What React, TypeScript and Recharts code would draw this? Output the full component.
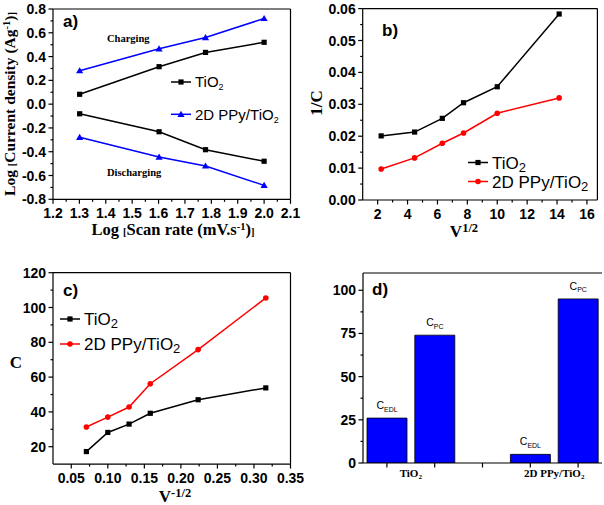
import React from "react";
import {
  LineChart, Line, XAxis, YAxis, ReferenceLine, BarChart, Bar, LabelList,
} from "recharts";

// ---- panel a: log current density vs log scan rate
const scanRateLog = [1.301, 1.602, 1.778, 2.0];
const tio2Charging = [0.083, 0.315, 0.435, 0.52];
const ppyCharging = [0.281, 0.465, 0.56, 0.72];
const tio2Discharging = [-0.081, -0.232, -0.383, -0.48];
const ppyDischarging = [-0.279, -0.445, -0.52, -0.683];
const aXMajor = [1.2, 1.3, 1.4, 1.5, 1.6, 1.7, 1.8, 1.9, 2.0, 2.1];
const aXMinor = [1.25, 1.35, 1.45, 1.55, 1.65, 1.75, 1.85, 1.95, 2.05];
const aYMajor = [-0.8, -0.6, -0.4, -0.2, 0, 0.2, 0.4, 0.6, 0.8];
const aYMinor = [-0.7, -0.5, -0.3, -0.1, 0.1, 0.3, 0.5, 0.7];

// ---- panel b: 1/C vs v^1/2
const sqrtRate = [2.236, 4.472, 6.325, 7.746, 10.0, 14.142];
const tio2InvC = [0.0201, 0.0213, 0.0256, 0.0305, 0.0355, 0.0583];
const ppyInvC = [0.0097, 0.0132, 0.0178, 0.021, 0.0272, 0.032];
const bXMajor = [2, 4, 6, 8, 10, 12, 14, 16];
const bXMinor = [3, 5, 7, 9, 11, 13, 15];
const bYMajor = [0, 0.01, 0.02, 0.03, 0.04, 0.05, 0.06];
const bYMinor = [0.005, 0.015, 0.025, 0.035, 0.045, 0.055];

// ---- panel c: C vs v^-1/2
const invSqrtRate = [0.0707, 0.1, 0.1291, 0.1581, 0.2236, 0.3162];
const tio2C = [17.2, 28.2, 33, 39.2, 47, 53.8];
const ppyC = [31.3, 37, 42.8, 56.2, 75.8, 105.5];
const cXMajor = [0.05, 0.1, 0.15, 0.2, 0.25, 0.3, 0.35];
const cXMinor = [0.075, 0.125, 0.175, 0.225, 0.275, 0.325];
const cYMajor = [20, 40, 60, 80, 100, 120];
const cYMinor = [30, 50, 70, 90, 110];

// ---- panel d: capacitance contributions
const dGroups = ["TiO2", "2D PPy/TiO2"];
const cEdl = [26, 5];
const cPc = [74, 95];
const dYMajor = [0, 25, 50, 75, 100];
const dYMinor = [12.5, 37.5, 62.5, 87.5];

const SANS = "'Liberation Sans', Arial, sans-serif";
const SERIF = "'Liberation Serif', 'Times New Roman', serif";
const BLUE = "#0000FF";
const RED = "#FF0000";
const axisStyle = { stroke: "#000", strokeWidth: 1.2 };
const tickText = { fontFamily: SANS, fontWeight: 700, fontSize: 14, fill: "#000" };

const dataA = scanRateLog.map((x, i) => ({
  x,
  tio2Charging: tio2Charging[i],
  ppyCharging: ppyCharging[i],
  tio2Discharging: tio2Discharging[i],
  ppyDischarging: ppyDischarging[i],
}));
const dataB = sqrtRate.map((x, i) => ({ x, tio2: tio2InvC[i], ppy: ppyInvC[i] }));
const dataC = invSqrtRate.map((x, i) => ({ x, tio2: tio2C[i], ppy: ppyC[i] }));

const dRows: { slot: string; value: number | null; kind: string; group: string }[] = [];
dGroups.forEach((g, i) => {
  if (i > 0) dRows.push({ slot: "gap" + i, value: null, kind: "", group: "" });
  dRows.push({ slot: g + "-EDL", value: cEdl[i], kind: "EDL", group: g });
  dRows.push({ slot: g + "-PC", value: cPc[i], kind: "PC", group: g });
});

const isMajor = (majors: number[], v: number) => majors.some((m) => Math.abs(m - v) < 1e-9);
const allTicks = (a: number[], b: number[]) => [...a, ...b].sort((p, q) => p - q);

// trailing "2" in the chemical names is drawn as a subscript
function chem(label: string, subSize: number, subDy: number) {
  if (!label.endsWith("2")) return label;
  return (
    <>
      {label.slice(0, -1)}
      <tspan fontSize={subSize} dy={subDy}>2</tspan>
    </>
  );
}

const makeYTick = (majors: number[], fmt: (v: number) => string) => (props: any) => {
  const { x, y, payload } = props;
  const v = payload.value;
  const major = isMajor(majors, v);
  const ax = x + 7;
  return (
    <g>
      <line x1={ax - (major ? 4.5 : 2.5)} x2={ax} y1={y} y2={y} stroke="#000" strokeWidth={1.2} />
      {major && (
        <text x={x} y={y} dy="0.36em" textAnchor="end" style={tickText}>{fmt(v)}</text>
      )}
    </g>
  );
};

const makeXTick = (majors: number[], fmt: (v: number) => string) => (props: any) => {
  const { x, y, payload } = props;
  const v = payload.value;
  const major = isMajor(majors, v);
  const ay = y - 7;
  return (
    <g>
      <line x1={x} x2={x} y1={ay} y2={ay + (major ? 4.5 : 2.5)} stroke="#000" strokeWidth={1.2} />
      {major && (
        <text x={x} y={ay + 18.5} textAnchor="middle" style={tickText}>{fmt(v)}</text>
      )}
    </g>
  );
};

const Square = (props: any) => {
  const { cx, cy, fill } = props;
  if (cx == null || cy == null) return null;
  return <rect x={cx - 2.6} y={cy - 2.6} width={5.2} height={5.2} fill={fill || "#000"} />;
};
const Triangle = (props: any) => {
  const { cx, cy, fill } = props;
  if (cx == null || cy == null) return null;
  return <polygon points={`${cx},${cy - 3.6} ${cx - 3.6},${cy + 2.6} ${cx + 3.6},${cy + 2.6}`} fill={fill || BLUE} />;
};
const Round = (props: any) => {
  const { cx, cy, fill } = props;
  if (cx == null || cy == null) return null;
  return <circle cx={cx} cy={cy} r={2.8} fill={fill || RED} />;
};

const renderBarLabel = (props: any) => {
  const { x, y, width, value } = props;
  if (!value || y == null) return null;
  return (
    <text x={x + width / 2} y={y - 9} textAnchor="middle" fontFamily={SANS} fontSize={10.5} fill="#000">
      C<tspan fontSize={7} dy={2.5}>{value}</tspan>
    </text>
  );
};

const renderDTick = (props: any) => {
  const { x, y, index } = props;
  const ay = y - 7;
  const row = dRows[index];
  return (
    <g>
      <line x1={x} x2={x} y1={ay} y2={ay + 4.5} stroke="#000" strokeWidth={1.2} />
      {row && row.kind === "EDL" && (
        <text x={x + 23.9} y={ay + 14} textAnchor="middle" fontFamily={SERIF} fontWeight={700} fontSize={11} fill="#000">
          {chem(row.group, 7, 2)}
        </text>
      )}
    </g>
  );
};

function LegendItem({ x, y, color, marker, label, size, subSize, subDy }: any) {
  const M = marker;
  return (
    <g>
      <line x1={x} x2={x + 20} y1={y} y2={y} stroke={color} strokeWidth={1.5} />
      <M cx={x + 10} cy={y} fill={color} />
      <text x={x + 24} y={y + size * 0.36} fontFamily={SANS} fontSize={size} fill="#000">
        {chem(label, subSize, subDy)}
      </text>
    </g>
  );
}

export default function App() {
  const boxLine = { stroke: "#000", strokeWidth: 1.2 };
  return (
    <div style={{ position: "relative", width: 604, height: 505, background: "#fff" }}>
      <style>{`body{margin:0} .recharts-surface{overflow:visible}`}</style>

      {/* a */}
      <div style={{ position: "absolute", left: 0, top: 0 }}>
        <LineChart width={300} height={250} data={dataA} margin={{ top: 9, right: 9.5, bottom: 20.7, left: 13 }}>
          <XAxis type="number" dataKey="x" domain={[1.2, 2.1]} allowDataOverflow ticks={allTicks(aXMajor, aXMinor)}
            interval={0} tickSize={4} tickMargin={3} tickLine={false} axisLine={axisStyle} height={30}
            tick={makeXTick(aXMajor, (v) => v.toFixed(1))} />
          <YAxis type="number" domain={[-0.8, 0.8]} allowDataOverflow ticks={allTicks(aYMajor, aYMinor)}
            interval={0} tickSize={4} tickMargin={3} tickLine={false} axisLine={axisStyle} width={40}
            tick={makeYTick(aYMajor, (v) => v.toFixed(1))} />
          <ReferenceLine y={0.8} {...boxLine} />
          <ReferenceLine x={2.1} {...boxLine} />
          <Line type="linear" dataKey="tio2Charging" stroke="#000" strokeWidth={1.5} dot={<Square fill="#000" />} isAnimationActive={false} />
          <Line type="linear" dataKey="ppyCharging" stroke={BLUE} strokeWidth={1.5} dot={<Triangle fill={BLUE} />} isAnimationActive={false} />
          <Line type="linear" dataKey="tio2Discharging" stroke="#000" strokeWidth={1.5} dot={<Square fill="#000" />} isAnimationActive={false} />
          <Line type="linear" dataKey="ppyDischarging" stroke={BLUE} strokeWidth={1.5} dot={<Triangle fill={BLUE} />} isAnimationActive={false} />
        </LineChart>
      </div>

      {/* b */}
      <div style={{ position: "absolute", left: 300, top: 0 }}>
        <LineChart width={304} height={250} data={dataB} margin={{ top: 8.6, right: 6.6, bottom: 20, left: 12.7 }}>
          <XAxis type="number" dataKey="x" domain={[1, 16.7]} allowDataOverflow ticks={allTicks(bXMajor, bXMinor)}
            interval={0} tickSize={4} tickMargin={3} tickLine={false} axisLine={axisStyle} height={30}
            tick={makeXTick(bXMajor, (v) => String(v))} />
          <YAxis type="number" domain={[0, 0.06]} allowDataOverflow ticks={allTicks(bYMajor, bYMinor)}
            interval={0} tickSize={4} tickMargin={3} tickLine={false} axisLine={axisStyle} width={50}
            tick={makeYTick(bYMajor, (v) => v.toFixed(2))} />
          <ReferenceLine y={0.06} {...boxLine} />
          <ReferenceLine x={16.7} {...boxLine} />
          <Line type="linear" dataKey="tio2" stroke="#000" strokeWidth={1.5} dot={<Square fill="#000" />} isAnimationActive={false} />
          <Line type="linear" dataKey="ppy" stroke={RED} strokeWidth={1.5} dot={<Round fill={RED} />} isAnimationActive={false} />
        </LineChart>
      </div>

      {/* c */}
      <div style={{ position: "absolute", left: 0, top: 250 }}>
        <LineChart width={300} height={255} data={dataC} margin={{ top: 22.7, right: 9.5, bottom: 10.9, left: 13 }}>
          <XAxis type="number" dataKey="x" domain={[0.025, 0.35]} allowDataOverflow ticks={allTicks(cXMajor, cXMinor)}
            interval={0} tickSize={4} tickMargin={3} tickLine={false} axisLine={axisStyle} height={30}
            tick={makeXTick(cXMajor, (v) => v.toFixed(2))} />
          <YAxis type="number" domain={[10, 120]} allowDataOverflow ticks={allTicks(cYMajor, cYMinor)}
            interval={0} tickSize={4} tickMargin={3} tickLine={false} axisLine={axisStyle} width={40}
            tick={makeYTick(cYMajor, (v) => String(v))} />
          <ReferenceLine y={120} {...boxLine} />
          <ReferenceLine x={0.35} {...boxLine} />
          <Line type="linear" dataKey="tio2" stroke="#000" strokeWidth={1.5} dot={<Square fill="#000" />} isAnimationActive={false} />
          <Line type="linear" dataKey="ppy" stroke={RED} strokeWidth={1.5} dot={<Round fill={RED} />} isAnimationActive={false} />
        </LineChart>
      </div>

      {/* d */}
      <div style={{ position: "absolute", left: 300, top: 250 }}>
        <BarChart width={304} height={255} data={dRows} margin={{ top: 23, right: 2, bottom: 12, left: 13 }} barCategoryGap={0}>
          <XAxis dataKey="slot" type="category" interval={0} tickSize={4} tickMargin={3} tickLine={false}
            axisLine={axisStyle} height={30} tick={renderDTick} />
          <YAxis type="number" domain={[0, 110]} allowDataOverflow ticks={allTicks(dYMajor, dYMinor)}
            interval={0} tickSize={4} tickMargin={3} tickLine={false} axisLine={axisStyle} width={50}
            tick={makeYTick(dYMajor, (v) => String(v))} />
          <YAxis yAxisId="right" orientation="right" width={0} tick={false} tickLine={false} axisLine={axisStyle} />
          <ReferenceLine y={110} {...boxLine} />
          <Bar dataKey="value" fill={BLUE} stroke="#000" strokeWidth={0.8} barSize={40} isAnimationActive={false}>
            <LabelList dataKey="kind" content={renderBarLabel} />
          </Bar>
        </BarChart>
      </div>

      {/* titles, panel letters and legends */}
      <svg width={604} height={505} style={{ position: "absolute", left: 0, top: 0, pointerEvents: "none" }}>
        <g fontFamily={SERIF} fontWeight={700} fill="#000">
          <text transform="translate(14.5,104) rotate(-90)" textAnchor="middle" fontSize={15.5}>
            Log <tspan fontSize={10.5}>[</tspan>Current density (Ag<tspan fontSize={10.5} dy={-5}>-1</tspan>
            <tspan dy={5}>)</tspan><tspan fontSize={10.5}>]</tspan>
          </text>
          <text x={173} y={235} textAnchor="middle" fontSize={16.5}>
            Log <tspan fontSize={10.5}>[</tspan>Scan rate (mV.s<tspan fontSize={10.5} dy={-5}>-1</tspan>
            <tspan dy={5}>)</tspan><tspan fontSize={10.5}>]</tspan>
          </text>
          <text x={107} y={41.5} fontSize={10.5}>Charging</text>
          <text x={107} y={176} fontSize={10.5}>Discharging</text>

          <text transform="translate(322,103) rotate(-90)" textAnchor="middle" fontSize={17}>1/C</text>
          <text x={464} y={237} textAnchor="middle" fontSize={17}>
            V<tspan fontSize={12.5} dy={-5.5}>1/2</tspan>
          </text>

          <text x={16} y={368} textAnchor="middle" fontSize={17}>C</text>
          <text x={175} y={502} textAnchor="middle" fontSize={17}>
            V<tspan fontSize={12.5} dy={-5.5}>-1/2</tspan>
          </text>
        </g>

        <g fontFamily={SANS} fontWeight={700} fontSize={17} fill="#000">
          <text x={63} y={27}>a)</text>
          <text x={382} y={36}>b)</text>
          <text x={63} y={296}>c)</text>
          <text x={372} y={295}>d)</text>
        </g>

        <LegendItem x={171} y={82} color="#000" marker={Square} label="TiO2" size={15} subSize={9} subDy={3} />
        <LegendItem x={171} y={114.3} color={BLUE} marker={Triangle} label="2D PPy/TiO2" size={15} subSize={9} subDy={3} />

        <LegendItem x={468} y={162.5} color="#000" marker={Square} label="TiO2" size={17} subSize={13} subDy={3} />
        <LegendItem x={468} y={181.5} color={RED} marker={Round} label="2D PPy/TiO2" size={17} subSize={13} subDy={3} />

        <LegendItem x={60} y={319} color="#000" marker={Square} label="TiO2" size={17} subSize={13} subDy={3} />
        <LegendItem x={60} y={344} color={RED} marker={Round} label="2D PPy/TiO2" size={17} subSize={13} subDy={3} />
      </svg>
    </div>
  );
}
